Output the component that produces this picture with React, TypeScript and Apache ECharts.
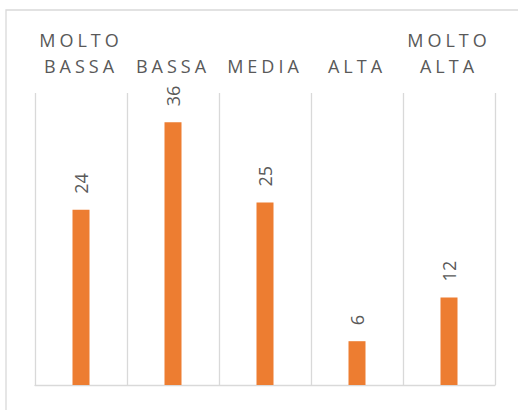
import React, { useEffect, useRef } from "react";
import * as echarts from "echarts";

const categories = ["MOLTO BASSA", "BASSA", "MEDIA", "ALTA", "MOLTO ALTA"];
const values = [24, 36, 25, 6, 12];
const yMin = 0;
const yMax = 40;

const spacedWords = new Set(["MOLTO", "BASSA", "MEDIA", "ALTA"]);

export default function App() {
  const ref = useRef<HTMLDivElement>(null);

  useEffect(() => {
    if (!ref.current) return;
    const el = ref.current;
    const chart = echarts.init(el, null, { renderer: "svg" });

    const applySpacing = () => {
      el.querySelectorAll("text").forEach((t) => {
        const s = (t.textContent || "").trim();
        if (spacedWords.has(s)) {
          (t as SVGTextElement).style.letterSpacing = "4px";
        }
      });
    };
    chart.on("rendered", applySpacing);

    chart.setOption({
      animation: false,
      backgroundColor: "#ffffff",
      graphic: [
        {
          type: "rect",
          shape: { x: 6, y: 10, width: 700, height: 600 },
          style: { fill: "none", stroke: "#d9d9d9", lineWidth: 1.3 },
          silent: true,
        },
      ],
      grid: { left: 35, right: 23, top: 93, bottom: 25 },
      xAxis: [
        {
          type: "category",
          data: categories,
          position: "top",
          axisLine: { show: false },
          axisTick: { show: false },
          splitLine: { show: true, lineStyle: { color: "#d9d9d9", width: 1.3 } },
          axisLabel: {
            interval: 0,
            margin: 14,
            color: "#595959",
            fontSize: 18,
            lineHeight: 26,
            fontFamily: "Open Sans",
            formatter: (v: string) => v.replace(" ", "\n"),
          },
        },
        {
          type: "category",
          data: categories,
          position: "bottom",
          axisLine: { show: true, onZero: false, lineStyle: { color: "#d9d9d9", width: 1.3 } },
          axisTick: { show: false },
          axisLabel: { show: false },
          splitLine: { show: false },
        },
      ],
      yAxis: {
        type: "value",
        min: yMin,
        max: yMax,
        show: false,
        splitLine: { show: false },
      },
      series: [
        {
          type: "bar",
          data: values,
          xAxisIndex: 0,
          barWidth: 17,
          itemStyle: { color: "#ED7D31" },
          label: {
            show: true,
            position: "top",
            rotate: 90,
            align: "left",
            verticalAlign: "middle",
            distance: 16,
            fontSize: 18,
            fontFamily: "Open Sans",
            color: "#595959",
          },
        },
      ],
    });
    applySpacing();

    return () => {
      chart.dispose();
    };
  }, []);

  return (
    <div
      ref={ref}
      style={{ position: "fixed", left: 0, top: 0, width: 518, height: 410 }}
    />
  );
}
